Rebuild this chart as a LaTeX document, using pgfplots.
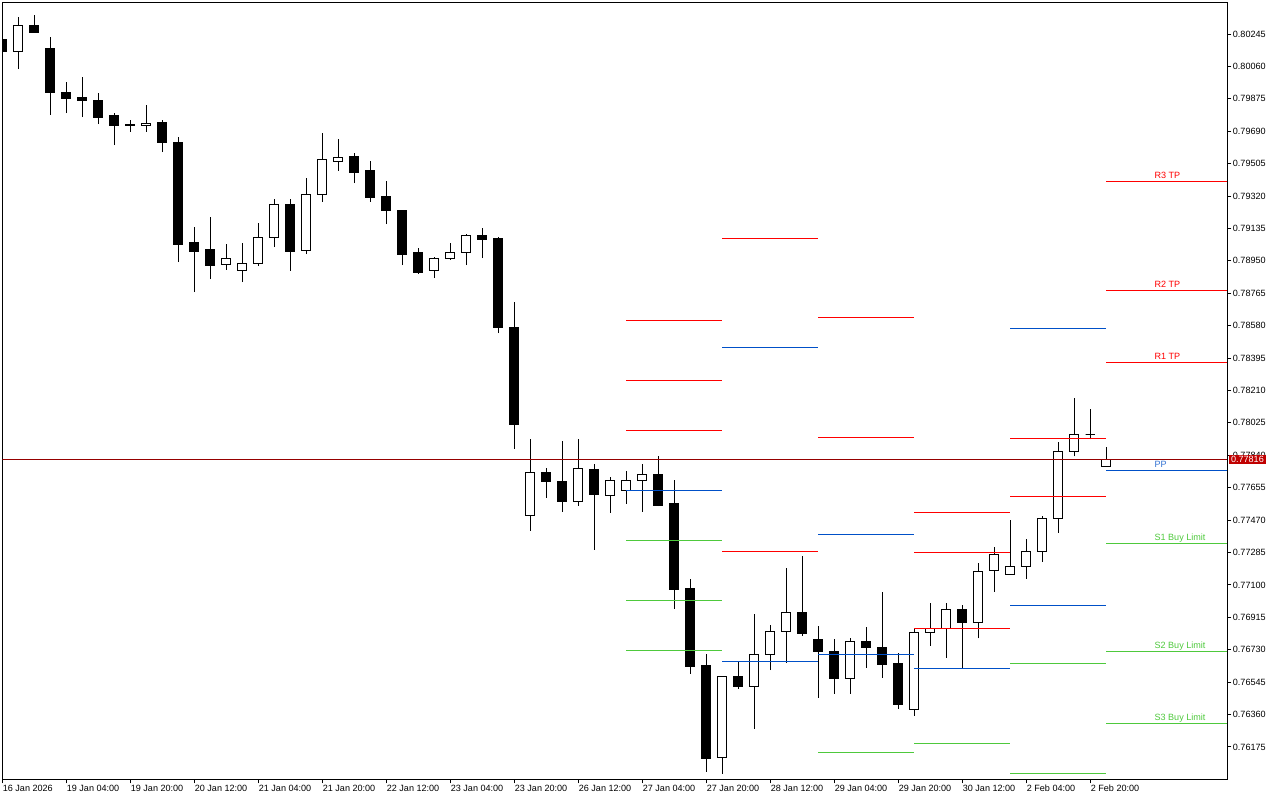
\documentclass[border=0pt]{standalone}
\usepackage{fontspec}
\setmainfont{Liberation Sans}
\usepackage{pgfplots}
\pgfplotsset{compat=1.18}
\definecolor{pivred}{RGB}{255,0,0}
\definecolor{pivblue}{RGB}{0,80,200}
\definecolor{pivgreen}{RGB}{78,201,60}
\definecolor{pricered}{RGB}{192,0,0}
\definecolor{priceline}{RGB}{150,0,0}
% \candle{index}{open}{high}{low}{close}{body fill}
\newcommand{\candle}[6]{%
  \pgfmathsetmacro{\xa}{#1-0.29}\pgfmathsetmacro{\xb}{#1+0.29}%
  \addplot[black, line width=0.75pt, mark=none] coordinates {(#1,#4) (#1,#3)};%
  \addplot[draw=black, fill=#6, line width=0.75pt, mark=none] coordinates {(\xa,#2) (\xb,#2) (\xb,#5) (\xa,#5)} -- cycle;%
}
\newcommand{\bull}[5]{\candle{#1}{#2}{#3}{#4}{#5}{white}}
\newcommand{\bear}[5]{\candle{#1}{#2}{#3}{#4}{#5}{black}}
% \lvl{from}{to}{price}{colour}
\newcommand{\lvl}[4]{\addplot[#4, line width=0.75pt, mark=none] coordinates {(#1,#3) (#2,#3)};}
\newcommand{\tagfont}{\fontsize{6.8}{8}\selectfont}
\begin{document}
\begin{tikzpicture}
\useasboundingbox (-1.725pt,-15.525pt) rectangle (958.275pt,584.475pt);
\begin{axis}[
  at={(0,0)}, anchor=south west,
  scale only axis, width=918.75pt, height=582.75pt,
  xmin=0, xmax=76.5625, ymin=0.759901, ymax=0.804260,
  axis line style={line width=0.75pt, black},
  tick align=outside, xtick pos=left, ytick pos=right, yticklabel pos=right,
  major tick length=3pt, tick style={black, line width=0.75pt},
  xtick={0,4,...,68},
  xticklabels={16 Jan 2026,19 Jan 04:00,19 Jan 20:00,20 Jan 12:00,21 Jan 04:00,21 Jan 20:00,22 Jan 12:00,23 Jan 04:00,23 Jan 20:00,26 Jan 12:00,27 Jan 04:00,27 Jan 20:00,28 Jan 12:00,29 Jan 04:00,29 Jan 20:00,30 Jan 12:00,2 Feb 04:00,2 Feb 20:00},
  ytick={0.76175,0.76360,0.76545,0.76730,0.76915,0.77100,0.77285,0.77470,0.77655,0.77840,0.78025,0.78210,0.78395,0.78580,0.78765,0.78950,0.79135,0.79320,0.79505,0.79690,0.79875,0.80060,0.80245},
  yticklabels={0.76175,0.76360,0.76545,0.76730,0.76915,0.77100,0.77285,0.77470,0.77655,0.77840,0.78025,0.78210,0.78395,0.78580,0.78765,0.78950,0.79135,0.79320,0.79505,0.79690,0.79875,0.80060,0.80245},
  ticklabel style={font=\tagfont, black},
  xticklabel style={anchor=north west, inner sep=0pt, xshift=0.2pt, yshift=-1.1pt},
  yticklabel style={anchor=west, inner sep=0pt, xshift=1pt},
  extra y ticks={0.77816},
  extra y tick labels={0.77816},
  extra y tick style={major tick length=0pt,
    yticklabel style={fill=pricered, text=white, inner xsep=1.6pt, inner ysep=1.3pt, xshift=0pt}},
  clip=true,
]
% ---- candles: index, open, high, low, close ----
\bear{0}{0.80215}{0.80222}{0.80137}{0.80144}
\bull{1}{0.80144}{0.80342}{0.80045}{0.80295}
\bear{2}{0.80296}{0.80354}{0.80256}{0.80256}
\bear{3}{0.80163}{0.80228}{0.79783}{0.79910}
\bear{4}{0.79912}{0.79971}{0.79794}{0.79874}
\bear{5}{0.79880}{0.79999}{0.79771}{0.79864}
\bear{6}{0.79868}{0.79908}{0.79731}{0.79771}
\bear{7}{0.79777}{0.79794}{0.79611}{0.79720}
\bear{8}{0.79731}{0.79754}{0.79686}{0.79720}
\bull{9}{0.79722}{0.79840}{0.79686}{0.79735}
\bear{10}{0.79737}{0.79754}{0.79571}{0.79623}
\bear{11}{0.79623}{0.79657}{0.78943}{0.79046}
\bear{12}{0.79052}{0.79143}{0.78772}{0.79006}
\bear{13}{0.79012}{0.79200}{0.78846}{0.78926}
\bull{14}{0.78928}{0.79046}{0.78898}{0.78966}
\bull{15}{0.78894}{0.79052}{0.78829}{0.78936}
\bull{16}{0.78934}{0.79166}{0.78920}{0.79084}
\bull{17}{0.79082}{0.79303}{0.79029}{0.79273}
\bear{18}{0.79273}{0.79303}{0.78892}{0.79006}
\bull{19}{0.79008}{0.79423}{0.78989}{0.79330}
\bull{20}{0.79328}{0.79680}{0.79288}{0.79530}
\bull{21}{0.79516}{0.79645}{0.79463}{0.79541}
\bear{22}{0.79543}{0.79566}{0.79394}{0.79457}
\bear{23}{0.79463}{0.79520}{0.79286}{0.79314}
\bear{24}{0.79320}{0.79406}{0.79160}{0.79236}
\bear{25}{0.79240}{0.79240}{0.78926}{0.78989}
\bear{26}{0.78995}{0.79023}{0.78875}{0.78886}
\bull{27}{0.78894}{0.78972}{0.78852}{0.78966}
\bull{28}{0.78962}{0.79052}{0.78955}{0.79000}
\bull{29}{0.78996}{0.79103}{0.78926}{0.79092}
\bear{30}{0.79092}{0.79137}{0.78966}{0.79071}
\bear{31}{0.79075}{0.79088}{0.78538}{0.78567}
\bear{32}{0.78572}{0.78715}{0.77876}{0.78015}
\bull{33}{0.77495}{0.77933}{0.77409}{0.77743}
\bear{34}{0.77743}{0.77767}{0.77598}{0.77689}
\bear{35}{0.77693}{0.77921}{0.77518}{0.77575}
\bull{36}{0.77575}{0.77933}{0.77552}{0.77766}
\bear{37}{0.77760}{0.77790}{0.77301}{0.77615}
\bull{38}{0.77609}{0.77714}{0.77512}{0.77697}
\bull{39}{0.77640}{0.77749}{0.77564}{0.77697}
\bull{40}{0.77697}{0.77788}{0.77518}{0.77731}
\bear{41}{0.77731}{0.77834}{0.77549}{0.77556}
\bear{42}{0.77562}{0.77699}{0.76964}{0.77073}
\bear{43}{0.77077}{0.77134}{0.76593}{0.76633}
\bear{44}{0.76637}{0.76705}{0.76032}{0.76108}
\bull{45}{0.76116}{0.76578}{0.76022}{0.76578}
\bear{46}{0.76578}{0.76666}{0.76506}{0.76519}
\bull{47}{0.76519}{0.76934}{0.76279}{0.76704}
\bull{48}{0.76704}{0.76871}{0.76614}{0.76835}
\bull{49}{0.76835}{0.77196}{0.76656}{0.76944}
\bear{50}{0.76944}{0.77265}{0.76810}{0.76821}
\bear{51}{0.76789}{0.76864}{0.76456}{0.76719}
\bear{52}{0.76721}{0.76791}{0.76479}{0.76564}
\bull{53}{0.76567}{0.76797}{0.76479}{0.76778}
\bear{54}{0.76778}{0.76858}{0.76627}{0.76741}
\bear{55}{0.76744}{0.77058}{0.76570}{0.76644}
\bear{56}{0.76652}{0.76709}{0.76393}{0.76416}
\bull{57}{0.76390}{0.76850}{0.76353}{0.76829}
\bull{58}{0.76829}{0.76995}{0.76753}{0.76852}
\bull{59}{0.76852}{0.76995}{0.76684}{0.76961}
\bear{60}{0.76961}{0.76983}{0.76624}{0.76884}
\bull{61}{0.76886}{0.77223}{0.76795}{0.77178}
\bull{62}{0.77183}{0.77315}{0.77061}{0.77275}
\bull{63}{0.77160}{0.77470}{0.77160}{0.77206}
\bull{64}{0.77206}{0.77360}{0.77135}{0.77292}
\bull{65}{0.77292}{0.77492}{0.77232}{0.77480}
\bull{66}{0.77480}{0.77914}{0.77398}{0.77863}
\bull{67}{0.77863}{0.78165}{0.77834}{0.77960}
\bull{68}{0.77960}{0.78102}{0.77931}{0.77960}
\bull{69}{0.77777}{0.77886}{0.77777}{0.77816}
% ---- daily pivot levels ----
% 27 Jan
\lvl{39}{45}{0.78612}{pivred}
\lvl{39}{45}{0.78268}{pivred}
\lvl{39}{45}{0.77983}{pivred}
\lvl{39}{45}{0.77640}{pivblue}
\lvl{39}{45}{0.77355}{pivgreen}
\lvl{39}{45}{0.77012}{pivgreen}
\lvl{39}{45}{0.76727}{pivgreen}
% 28 Jan
\lvl{45}{51}{0.79080}{pivred}
\lvl{45}{51}{0.78458}{pivblue}
\lvl{45}{51}{0.77288}{pivred}
\lvl{45}{51}{0.76664}{pivblue}
% 29 Jan
\lvl{51}{57}{0.78624}{pivred}
\lvl{51}{57}{0.77944}{pivred}
\lvl{51}{57}{0.77385}{pivblue}
\lvl{51}{57}{0.76704}{pivblue}
\lvl{51}{57}{0.76144}{pivgreen}
% 30 Jan
\lvl{57}{63}{0.77514}{pivred}
\lvl{57}{63}{0.77286}{pivred}
\lvl{57}{63}{0.76852}{pivred}
\lvl{57}{63}{0.76624}{pivblue}
\lvl{57}{63}{0.76192}{pivgreen}
% 2 Feb
\lvl{63}{69}{0.78561}{pivblue}
\lvl{63}{69}{0.77937}{pivred}
\lvl{63}{69}{0.77606}{pivred}
\lvl{63}{69}{0.76983}{pivblue}
\lvl{63}{69}{0.76652}{pivgreen}
\lvl{63}{69}{0.76024}{pivgreen}
% 3 Feb (current)
\lvl{69}{76.5625}{0.79404}{pivred}
\lvl{69}{76.5625}{0.78781}{pivred}
\lvl{69}{76.5625}{0.78370}{pivred}
\lvl{69}{76.5625}{0.77754}{pivblue}
\lvl{69}{76.5625}{0.77337}{pivgreen}
\lvl{69}{76.5625}{0.76721}{pivgreen}
\lvl{69}{76.5625}{0.76310}{pivgreen}
% current price line
\addplot[priceline, line width=0.75pt, mark=none] coordinates {(0,0.77816) (76.5625,0.77816)};
% level tags
\node[anchor=base west, inner sep=0pt, font=\tagfont, text=pivred, yshift=2pt] at (axis cs:72,0.79404) {R3 TP};
\node[anchor=base west, inner sep=0pt, font=\tagfont, text=pivred, yshift=2pt] at (axis cs:72,0.78781) {R2 TP};
\node[anchor=base west, inner sep=0pt, font=\tagfont, text=pivred, yshift=2pt] at (axis cs:72,0.78370) {R1 TP};
\node[anchor=base west, inner sep=0pt, font=\tagfont, text=pivblue!80!white, yshift=2pt] at (axis cs:72,0.77754) {PP};
\node[anchor=base west, inner sep=0pt, font=\tagfont, text=pivgreen, yshift=2pt] at (axis cs:72,0.77337) {S1 Buy Limit};
\node[anchor=base west, inner sep=0pt, font=\tagfont, text=pivgreen, yshift=2pt] at (axis cs:72,0.76721) {S2 Buy Limit};
\node[anchor=base west, inner sep=0pt, font=\tagfont, text=pivgreen, yshift=2pt] at (axis cs:72,0.76310) {S3 Buy Limit};
\end{axis}
\end{tikzpicture}
\end{document}
